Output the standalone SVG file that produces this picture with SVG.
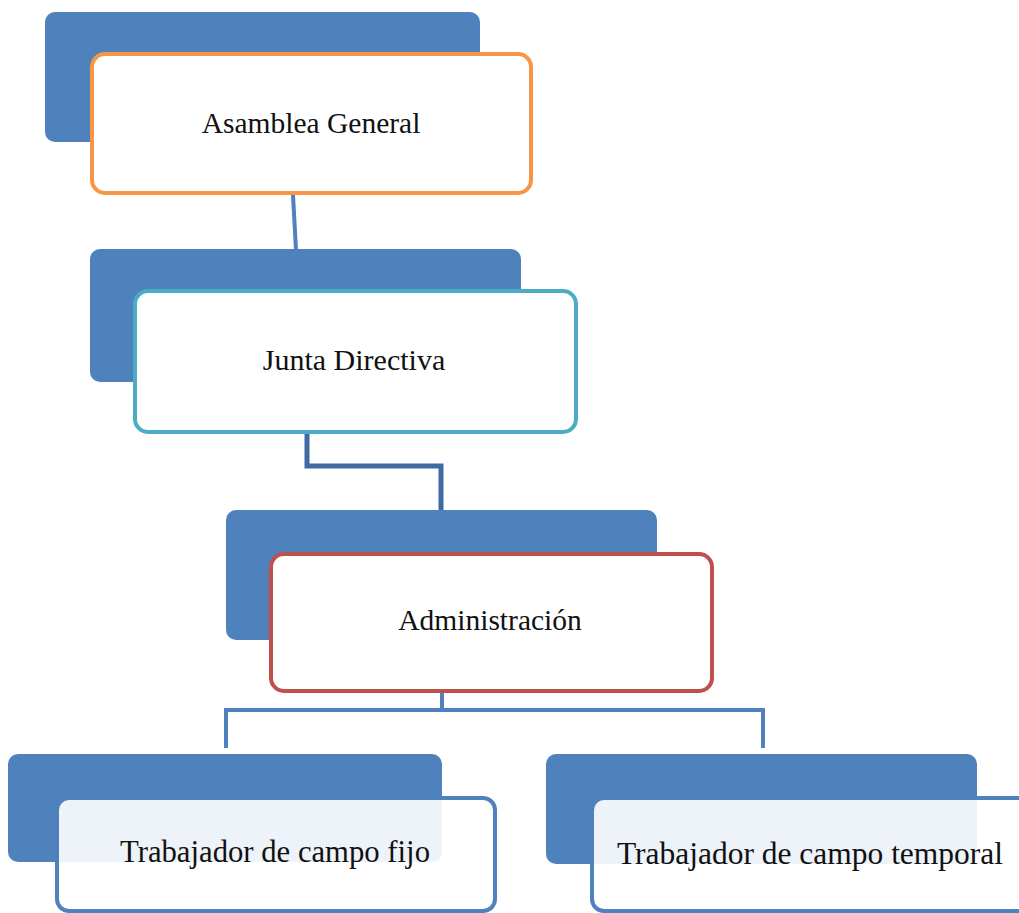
<svg xmlns="http://www.w3.org/2000/svg" width="1019" height="913" viewBox="0 0 1019 913">
<style>
.back{fill:#4f81bd}
.front{fill:#ffffff;stroke-width:4}
.lbl{font-family:"Liberation Serif","Times New Roman",serif;fill:#111;text-anchor:middle}
.conn{fill:none;stroke:#4f81bd;stroke-width:4}
</style>
<rect width="1019" height="913" fill="#ffffff"/>
<g id="connectors">
<path class="conn" d="M293 195 L296 250"/>
<path class="conn" d="M307 432 V466 H441 V510" stroke="#3f6aa3" style="stroke:#3f6aa3;stroke-width:5"/>
<path class="conn" d="M442 692 V710 M226 748 V710 H763 V748"/>
</g>
<g id="asamblea">
<rect class="back" x="45" y="12" width="435" height="130" rx="10"/>
<rect class="front" x="92" y="54" width="439" height="139" rx="13" stroke="#f79646"/>
<text class="lbl" x="311" y="133" font-size="29.5">Asamblea General</text>
</g>
<g id="junta">
<rect class="back" x="90" y="249" width="431" height="133" rx="10"/>
<rect class="front" x="135" y="291" width="441" height="141" rx="13" stroke="#4bacc6"/>
<text class="lbl" x="354" y="370" font-size="30">Junta Directiva</text>
</g>
<g id="administracion">
<rect class="back" x="226" y="510" width="431" height="130" rx="10"/>
<rect class="front" x="271" y="554" width="441" height="137" rx="13" stroke="#c0504d"/>
<text class="lbl" x="490" y="630" font-size="29.5">Administración</text>
</g>
<g id="fijo">
<rect class="back" x="8" y="754" width="434" height="108" rx="10"/>
<rect class="front" x="57" y="798" width="438" height="113" rx="12" stroke="#4f81bd" fill-opacity="0.9"/>
<text class="lbl" x="275" y="862" font-size="31" textLength="310" lengthAdjust="spacingAndGlyphs">Trabajador de campo fijo</text>
</g>
<g id="temporal">
<rect class="back" x="546" y="754" width="431" height="110" rx="10"/>
<rect class="front" x="592" y="798" width="440" height="113" rx="12" stroke="#4f81bd" fill-opacity="0.9"/>
<text class="lbl" x="810" y="864" font-size="31" textLength="386" lengthAdjust="spacingAndGlyphs">Trabajador de campo temporal</text>
</g>
</svg>
